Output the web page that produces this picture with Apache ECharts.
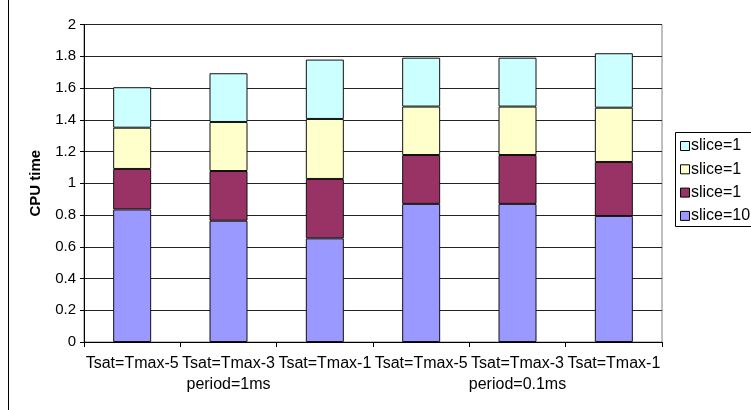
<!DOCTYPE html>
<html><head><meta charset="utf-8">
<script src="https://cdn.jsdelivr.net/npm/echarts@6/dist/echarts.min.js"></script>
<style>html,body{margin:0;padding:0;background:#fff}#c{width:751px;height:410px}</style>
</head><body><div id="c"></div>
<script>
const categories = ['Tsat=Tmax-5','Tsat=Tmax-3','Tsat=Tmax-1','Tsat=Tmax-5','Tsat=Tmax-3','Tsat=Tmax-1'];
const groupLabels = ['','period=1ms','','','period=0.1ms',''];
const seriesNames = ['slice=10','slice=1','slice=1','slice=1'];
const seriesColors = ['#9999FF','#993366','#FFFFCC','#CCFFFF'];
const s0 = [0.835, 0.764, 0.653, 0.870, 0.870, 0.794];
const s1 = [0.255, 0.313, 0.374, 0.308, 0.308, 0.340];
const s2 = [0.260, 0.309, 0.378, 0.305, 0.305, 0.342];
const s3 = [0.255, 0.307, 0.374, 0.308, 0.308, 0.343];
const values = [s0, s1, s2, s3];
const legendOrder = [3, 2, 1, 0];

const font = 'Liberation Sans, Arial, sans-serif';
const chart = echarts.init(document.getElementById('c'));
const gridL = 84, gridR = 662, gridT = 24.5, gridB = 342;

const legendGraphics = [{
  type: 'rect', shape: {x: 675.5, y: 132.5, width: 100, height: 94},
  style: {fill: '#fff', stroke: '#000', lineWidth: 1}
}];
legendOrder.forEach((si, k) => {
  const cy = 146 + k * 23.3;
  legendGraphics.push({type: 'rect', shape: {x: 680.5, y: cy - 4.5, width: 9, height: 9},
    style: {fill: seriesColors[si], stroke: '#000', lineWidth: 1}});
  legendGraphics.push({type: 'text', x: 691, y: cy,
    style: {text: seriesNames[si], fill: '#000', font: '16px ' + font, textVerticalAlign: 'middle', textBaseline: 'middle'}});
});

chart.setOption({
  animation: false,
  grid: {left: gridL, right: 751 - gridR, top: gridT, bottom: 410 - gridB, show: true, borderColor: '#808080', borderWidth: 1, backgroundColor: '#fff'},
  xAxis: [{
    type: 'category', data: categories, position: 'bottom',
    axisLine: {show: true, lineStyle: {color: '#000', width: 1}},
    axisTick: {show: true, length: 5, lineStyle: {color: '#000'}},
    axisLabel: {interval: 0, margin: 14, color: '#000', fontSize: 16, fontFamily: font}
  }, {
    type: 'category', data: groupLabels, position: 'bottom', offset: 21,
    axisLine: {show: false}, axisTick: {show: false},
    axisLabel: {interval: 0, margin: 14, color: '#000', fontSize: 16, fontFamily: font}
  }],
  yAxis: {
    type: 'value', min: 0, max: 2, interval: 0.2,
    name: 'CPU time', nameLocation: 'middle', nameGap: 41, nameRotate: 90,
    nameTextStyle: {fontWeight: 'bold', fontSize: 15, fontFamily: font, color: '#000'},
    axisLine: {show: true, lineStyle: {color: '#000'}},
    axisTick: {show: true, length: 4, lineStyle: {color: '#000'}},
    axisLabel: {color: '#000', fontSize: 15, fontFamily: font, margin: 8,
      formatter: v => String(Math.round(v * 10) / 10)},
    splitLine: {show: true, lineStyle: {color: '#222', width: 1}}
  },
  series: values.map((d, i) => ({
    type: 'bar', name: seriesNames[i], stack: 'a', data: d, barWidth: 38, xAxisIndex: 0,
    itemStyle: {color: seriesColors[i], borderColor: '#111', borderWidth: 1}
  })),
  graphic: [
    {type: 'line', shape: {x1: 8.5, y1: 0, x2: 8.5, y2: 410}, style: {stroke: '#000', lineWidth: 1}}
  ].concat(legendGraphics)
});
</script></body></html>
